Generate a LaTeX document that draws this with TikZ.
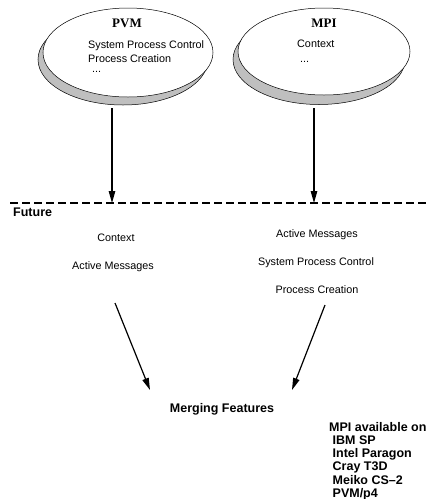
\documentclass[tikz,border=0pt]{standalone}
\usepackage{fontspec}
\setmainfont{Liberation Sans}
\newfontfamily\serifbf{Liberation Serif}
\usetikzlibrary{shapes.geometric,arrows.meta}
\tikzset{
  bubble/.style={ellipse,draw=black,line width=0.5pt,fill=white,inner sep=0pt},
  shade/.style={ellipse,draw=black,line width=0.5pt,fill=black!25,inner sep=0pt},
  title/.style={font=\serifbf\bfseries\fontsize{13}{15}\selectfont,inner sep=0pt,anchor=base},
  item/.style={font=\fontsize{10.8}{13}\selectfont,inner sep=0pt},
  head/.style={font=\bfseries\fontsize{12.5}{13.3}\selectfont,inner sep=0pt},
  flow/.style={line width=1.2pt,-{Triangle[length=12pt,width=6.5pt]}},
  cut/.style={line width=2pt,dash pattern=on 8pt off 4pt}
}
\begin{document}
\begin{tikzpicture}[x=1pt,y=-1pt]
\path[use as bounding box,fill=white] (0,0) rectangle (430,499);
% PVM
\node[shade,minimum width=170pt,minimum height=91pt] (pvmshadow) at (123,59.5) {};
\node[bubble,minimum width=170pt,minimum height=89pt] (pvm) at (128,52.5) {};
\node[title] (pvmt) at (127,27) {PVM};
\node[item,anchor=base west] (pvm1) at (88,48) {System Process Control};
\node[item,anchor=base west] (pvm2) at (88,62) {Process Creation};
\node[item,anchor=base west] (pvm3) at (92,72) {...};
% MPI
\node[shade,minimum width=172pt,minimum height=90pt] (mpishadow) at (319,59.5) {};
\node[bubble,minimum width=172pt,minimum height=87pt] (mpi) at (324,51.5) {};
\node[title] (mpit) at (324,27) {MPI};
\node[item,anchor=base west] (mpi1) at (297,47) {Context};
\node[item,anchor=base west] (mpi2) at (300,62) {...};
% dashed line
\coordinate (cutL) at (10,203);
\coordinate (cutR) at (430,203);
\draw[cut] (cutL) -- (cutR);
\coordinate (pvmout) at (112,108);
\coordinate (pvmin) at (112,203);
\coordinate (mpiout) at (314,108);
\coordinate (mpiin) at (314,203);
\draw[flow] (pvmout) -- (pvmin);
\draw[flow] (mpiout) -- (mpiin);
\node[head,anchor=base west] (future) at (13,216) {Future};
% future items
\node[item,anchor=base] (fl1) at (116,241.5) {Context};
\node[item,anchor=base] (fl2) at (113,269.5) {Active Messages};
\node[item,anchor=base] (fr1) at (317,237) {Active Messages};
\node[item,anchor=base] (fr2) at (316,265.5) {System Process Control};
\node[item,anchor=base] (fr3) at (317,293) {Process Creation};
% merging
\coordinate (lstart) at (115,303);
\coordinate (lend) at (150,390);
\coordinate (rstart) at (325,305);
\coordinate (rend) at (292,390);
\draw[flow] (lstart) -- (lend);
\draw[flow] (rstart) -- (rend);
\node[head,anchor=base] (merge) at (222,412) {Merging Features};
\node[head,anchor=base west,align=left] (avail) at (329,497.5) {MPI available on\\\ IBM SP\\\ Intel Paragon\\\ Cray T3D\\\ Meiko CS--2\\\ PVM/p4};
\end{tikzpicture}
\end{document}
